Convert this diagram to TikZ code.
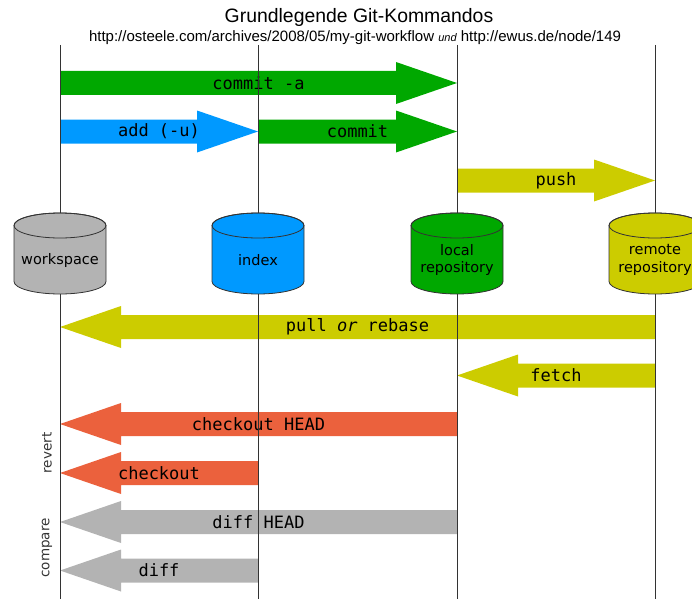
\documentclass[tikz,border=0pt]{standalone}
\usepackage{fontspec}
\setmainfont{Liberation Sans}
\setmonofont{DejaVu Sans Mono}
\newfontfamily\dejavu{DejaVu Sans}
\usetikzlibrary{calc}
\definecolor{gitgreen}{HTML}{00A800}
\definecolor{gitblue}{HTML}{0099FF}
\definecolor{gityellow}{HTML}{CCCC00}
\definecolor{gitred}{HTML}{EB613D}
\definecolor{gitgray}{HTML}{B3B3B3}
\definecolor{rule}{HTML}{333333}
% fat arrow: tail x, tip x, y, colour, name, label
\newcommand{\blockarrow}[6]{%
  \pgfmathsetmacro{\hb}{#2>#1 ? #2-61 : #2+61}
  \fill[#4] (#1,#3+12) -- (\hb,#3+12) -- (\hb,#3+21) -- (#2,#3) -- (\hb,#3-21) -- (\hb,#3-12) -- (#1,#3-12) -- cycle;
  \node[cmd] (#5) at ({(#1+#2)/2},#3) {#6};
}

\begin{document}
\begin{tikzpicture}[x=1pt,y=1pt,
  cmd/.style={font=\ttfamily\fontsize{17}{20}\selectfont,inner sep=0pt},
  store/.style={font=\dejavu\fontsize{14.5}{17.4}\selectfont,align=center,inner sep=0pt},
  side/.style={font=\dejavu\fontsize{13.5}{16}\selectfont,text=rule,rotate=90,inner sep=0pt}]
  \useasboundingbox (0,0) rectangle (692,-599);
  \node[font=\fontsize{19.4}{23}\selectfont] (title) at (359,-17) {Grundlegende Git-Kommandos};
  \node[font=\fontsize{15}{18}\selectfont] (src) at (355,-38)
    {http://osteele.com/archives/2008/05/my-git-workflow {\itshape\fontsize{11}{13}\selectfont und} http://ewus.de/node/149};
  % upstream
  \blockarrow{60}{457}{-83}{gitgreen}{commita}{commit -a}
  \blockarrow{60}{258}{-131.5}{gitblue}{add}{add (-u)}
  \blockarrow{258}{457}{-131.5}{gitgreen}{commit}{commit}
  \blockarrow{457}{655}{-180.5}{gityellow}{push}{push}
  % downstream
  \blockarrow{655}{60}{-327}{gityellow}{pull}{pull \textit{or} rebase}
  \blockarrow{655}{457}{-375.5}{gityellow}{fetch}{fetch}
  \blockarrow{457}{60}{-424}{gitred}{coHEAD}{checkout HEAD}
  \blockarrow{258}{60}{-473}{gitred}{co}{checkout}
  \blockarrow{457}{60}{-522}{gitgray}{diffHEAD}{diff HEAD}
  \blockarrow{258}{60}{-570.5}{gitgray}{diff}{diff}
  \node[side] (revert) at (47,-453) {revert};
  \node[side] (compare) at (47,-548) {compare};
  % lanes
  \foreach \x in {60,258,457,655} \draw[rule,line width=0.9pt] (\x,-45) -- (\x,-599);
  % stores
  \foreach \x/\c/\n/\t in {60/gitgray/ws/workspace,258/gitblue/idx/index,
      457/gitgreen/local/{local\\repository},655/gityellow/remote/{remote\\repository}} {
    \filldraw[fill=\c,draw=rule,line width=0.8pt] (\x-46,-225.5) -- (\x-46,-281.5)
      arc(180:360:46pt and 12.5pt) -- (\x+46,-225.5) arc(0:180:46pt and 12.5pt) -- cycle;
    \draw[rule,line width=0.8pt] (\x,-225.5) ellipse (46pt and 12.5pt);
    \node[store] (\n) at (\x,-260) {\t};
  }
\end{tikzpicture}
\end{document}
